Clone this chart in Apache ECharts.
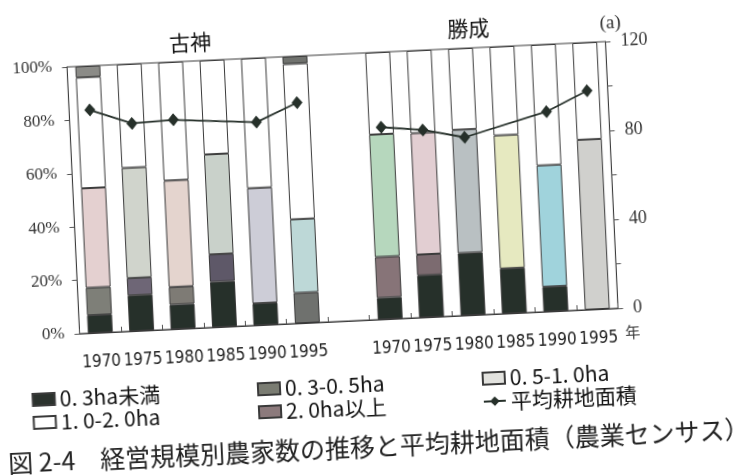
<!DOCTYPE html>
<html>
<head>
<meta charset="utf-8">
<script src="https://cdn.jsdelivr.net/npm/echarts@6/dist/echarts.min.js"></script>
<style>
html,body{margin:0;padding:0;width:735px;height:475px;overflow:hidden;background:#ffffff;}
#wrap{position:absolute;left:-40px;top:-40px;width:815px;height:555px;transform:rotate(-2.7deg);transform-origin:50% 50%;}
#chart{width:815px;height:555px;}
</style>
</head>
<body>
<div id="wrap"><div id="chart"></div></div>
<script>
// ---- data ----
const groupNames = ['古神', '勝成'];
const years = ['1970', '1975', '1980', '1985', '1990', '1995'];
const seriesNames = ['0. 3ha未満', '0. 3-0. 5ha', '0. 5-1. 0ha', '1. 0-2. 0ha', '2. 0ha以上'];
const lineName = '平均耕地面積';
const yLeftTicks = [0, 20, 40, 60, 80, 100];
const yRightTicks = [0, 40, 80, 120];

// share of farms by size (%), 古神
const kUnder03 = [6.7, 13.4, 9.2, 17.0, 8.2, 0];
const k03to05 = [10.3, 6.5, 6.6, 10.3, 0, 11.4];
const k05to10 = [37.3, 41.3, 39.9, 37.5, 43.2, 27.6];
const k10to20 = [41.5, 38.8, 44.3, 35.2, 48.6, 58.2];
const kOver20 = [4.2, 0, 0, 0, 0, 2.8];
// share of farms by size (%), 勝成
const sUnder03 = [8.1, 15.8, 23.4, 16.9, 9.3, 0];
const s03to05 = [15.3, 7.8, 0, 0, 0, 0];
const s05to10 = [45.9, 45.5, 46.2, 49.9, 45.5, 63.7];
const s10to20 = [30.7, 30.9, 30.4, 33.2, 45.2, 36.3];
const sOver20 = [0, 0, 0, 0, 0, 0];
// average cultivated area (a)
const kArea = [100.2, 93.3, 94.0, null, 91.2, 99.1];
const sArea = [86.3, 84.2, 80.0, null, 89.8, 98.3];

// ---- styles ----
const legendColors = ['#2b322d', '#7a7c72', '#e2e2de', '#ffffff', '#8c7a7c'];
const kColors = [
  ['#26302a', '#26302a', '#26302a', '#26302a', '#26302a', '#26302a'],
  ['#7e7f78', '#6e6676', '#7e7b75', '#5e5868', '#7e7f78', '#6f716e'],
  ['#e4d0d0', '#d0d4cc', '#e4d4ce', '#c9d1ca', '#cdcdd7', '#bdd8d7'],
  ['#ffffff', '#ffffff', '#ffffff', '#ffffff', '#ffffff', '#ffffff'],
  ['#8b8b87', '#8b8b87', '#8b8b87', '#8b8b87', '#8b8b87', '#70726e']
];
const sColors = [
  ['#26302a', '#26302a', '#26302a', '#26302a', '#26302a', '#26302a'],
  ['#877478', '#7c6b70', '#7c6b70', '#7c6b70', '#7c6b70', '#7c6b70'],
  ['#b6d7bd', '#e2ced2', '#b9c0c2', '#e6e9c0', '#a0d3dc', '#d0d0cd'],
  ['#ffffff', '#ffffff', '#ffffff', '#ffffff', '#ffffff', '#ffffff'],
  ['#8c7a7c', '#8c7a7c', '#8c7a7c', '#8c7a7c', '#8c7a7c', '#8c7a7c']
];

const OX = 40, OY = 40;
const categories = years.map(y => 'k' + y).concat(['gap'], years.map(y => 's' + y));
const kData = [kUnder03, k03to05, k05to10, k10to20, kOver20];
const sData = [sUnder03, s03to05, s05to10, s10to20, sOver20];

function buildBar(i) {
  const vals = kData[i].concat([null], sData[i]);
  const cols = kColors[i].concat([null], sColors[i]);
  return vals.map((v, j) => (v ? { value: v, itemStyle: { color: cols[j] } } : null));
}

const barSeries = seriesNames.map((name, i) => ({
  name: name,
  type: 'bar',
  stack: 'share',
  barWidth: 25,
  yAxisIndex: 0,
  itemStyle: { color: legendColors[i], borderColor: '#3a3a3a', borderWidth: 1 },
  emphasis: { disabled: true },
  data: buildBar(i)
}));

const nulls7 = [null, null, null, null, null, null, null];
const lineCommon = {
  name: lineName,
  type: 'line',
  yAxisIndex: 1,
  connectNulls: true,
  symbol: 'diamond',
  symbolSize: [11, 13],
  lineStyle: { color: '#26302a', width: 1.8 },
  itemStyle: { color: '#26302a' },
  z: 5
};
const lineSeries = [
  Object.assign({}, lineCommon, { data: kArea.concat(nulls7) }),
  Object.assign({}, lineCommon, { data: nulls7.concat(sArea) })
];

const legendText = { fontFamily: "'Noto Sans CJK JP', sans-serif", fontSize: 21, lineHeight: 20, color: '#111' };
function legend(items, left) {
  return {
    data: items, orient: 'vertical', left: left, top: 373.5 + OY, padding: 0,
    itemGap: 2, itemWidth: 22, itemHeight: 12, textStyle: legendText, selectedMode: false
  };
}

const chart = echarts.init(document.getElementById('chart'), null, { renderer: 'canvas' });
chart.setOption({
  backgroundColor: '#ffffff',
  animation: false,
  grid: {
    left: 75.4 + OX, top: 53 + OY, width: 539, height: 267,
    show: true, borderColor: '#3a3a3a', borderWidth: 1, containLabel: false
  },
  legend: [
    legend([{ name: seriesNames[0], icon: 'rect' }, { name: seriesNames[3], icon: 'rect' }], 24.5 + OX),
    legend([{ name: seriesNames[1], icon: 'rect' }, { name: seriesNames[4], icon: 'rect' }], 250 + OX),
    legend([{ name: seriesNames[2], icon: 'rect' }, { name: lineName }], 475 + OX)
  ],
  xAxis: {
    type: 'category',
    data: categories,
    boundaryGap: true,
    axisLine: { lineStyle: { color: '#3a3a3a', width: 1 } },
    axisTick: { show: true, inside: true, length: 5, interval: 0, lineStyle: { color: '#555' } },
    axisLabel: {
      interval: 0, margin: 21,
      formatter: v => (v === 'gap' ? '' : v.slice(1)),
      fontFamily: "'DejaVu Sans Condensed', sans-serif",
      fontSize: 17, color: '#222'
    }
  },
  yAxis: [
    {
      type: 'value', min: 0, max: 100, interval: 20, position: 'left',
      axisLine: { show: true, lineStyle: { color: '#3a3a3a' } },
      axisTick: { show: true, length: 5, lineStyle: { color: '#555' } },
      splitLine: { show: false },
      axisLabel: {
        margin: 15, formatter: v => (yLeftTicks.indexOf(v) >= 0 ? v + '%' : ''),
        fontFamily: "'Liberation Serif', 'DejaVu Serif', serif", fontSize: 17, color: '#333'
      }
    },
    {
      type: 'value', min: 0, max: 120, interval: 20, position: 'right',
      axisLine: { show: true, lineStyle: { color: '#3a3a3a' } },
      axisTick: { show: true, length: 5, lineStyle: { color: '#555' } },
      splitLine: { show: false },
      axisLabel: {
        margin: 15, formatter: v => (yRightTicks.indexOf(v) >= 0 ? String(v) : ''),
        fontFamily: "'Liberation Serif', 'DejaVu Serif', serif", fontSize: 18, color: '#333'
      }
    }
  ],
  graphic: [
    { type: 'text', x: 199.5 + OX, y: 33.8 + OY, style: { text: groupNames[0], align: 'center', verticalAlign: 'middle', font: "21px 'Noto Sans CJK JP', sans-serif", fill: '#111' } },
    { type: 'text', x: 478 + OX, y: 33 + OY, style: { text: groupNames[1], align: 'center', verticalAlign: 'middle', font: "21px 'Noto Sans CJK JP', sans-serif", fill: '#111' } },
    { type: 'text', x: 620 + OX, y: 35 + OY, style: { text: '(a)', align: 'center', verticalAlign: 'middle', font: "19px 'Liberation Serif', 'DejaVu Serif', serif", fill: '#333' } },
    { type: 'text', x: 628 + OX, y: 344 + OY, style: { text: '年', align: 'center', verticalAlign: 'middle', font: "15px 'Noto Sans CJK JP', sans-serif", fill: '#333' } },
    { type: 'text', x: -2 + OX, y: 446.5 + OY, style: { text: '図 2-4　経営規模別農家数の推移と平均耕地面積（農業センサス）', align: 'left', verticalAlign: 'middle', font: "25px 'Noto Sans CJK JP', sans-serif", fill: '#222' } }
  ],
  series: barSeries.concat(lineSeries)
});
</script>
</body>
</html>
